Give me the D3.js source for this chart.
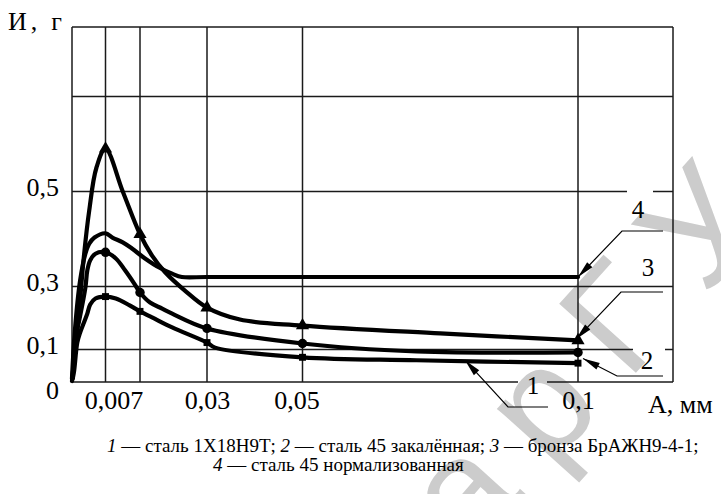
<!DOCTYPE html>
<html><head><meta charset="utf-8">
<script src="https://cdn.jsdelivr.net/npm/d3@7"></script>
<style>html,body{margin:0;padding:0;background:#fff;} svg{display:block;}</style>
</head><body>
<svg id="chart" width="721" height="494"></svg>
<script>
// Wear И (g) versus slip amplitude A (mm) for four materials
const xTicks = [0.007, 0.03, 0.05, 0.1];
const xGrid = [0.007, 0.01, 0.03, 0.05, 0.1];
const yTicks = [0, 0.1, 0.3, 0.5];
const yGrid = [0.1, 0.3, 0.5, 0.7];
const markerX = [0.007, 0.01, 0.03, 0.05, 0.1];

// 1 — сталь 1Х18Н9Т
const steel1X18 = [[0,0.003],[0.0004,0.03],[0.0011,0.122],[0.0017,0.154],[0.0025,0.186],[0.0032,0.214],[0.0038,0.243],[0.0049,0.262],[0.007,0.268],[0.0079,0.262],[0.0091,0.24],[0.01,0.221],[0.0136,0.202],[0.0196,0.17],[0.03,0.122],[0.0317,0.106],[0.05,0.076],[0.0707,0.067],[0.1,0.058]];
// 2 — сталь 45 закалённая
const steel45Hard = [[0.0002,0.012],[0.0006,0.129],[0.0015,0.192],[0.0028,0.297],[0.0032,0.334],[0.0038,0.355],[0.0049,0.369],[0.007,0.372],[0.0079,0.359],[0.0087,0.334],[0.0095,0.306],[0.01,0.281],[0.013,0.249],[0.0166,0.23],[0.0196,0.214],[0.03,0.167],[0.05,0.119],[0.0707,0.094],[0.1,0.091]];
// 3 — бронза БрАЖН9-4-1
const bronze = [[0,0.01],[0.0008,0.11],[0.0017,0.26],[0.0025,0.365],[0.0036,0.46],[0.0051,0.55],[0.007,0.59],[0.0085,0.50],[0.01,0.41],[0.0136,0.365],[0.0175,0.33],[0.0234,0.287],[0.03,0.233],[0.0369,0.195],[0.05,0.176],[0.075,0.151],[0.1,0.129]];
// 4 — сталь 45 нормализованная
const steel45Norm = [[0,0.012],[0.0006,0.16],[0.0017,0.313],[0.0028,0.369],[0.0036,0.39],[0.0047,0.403],[0.007,0.412],[0.0076,0.403],[0.0085,0.393],[0.0093,0.38],[0.0115,0.359],[0.0157,0.34],[0.0196,0.327],[0.0225,0.32],[0.03,0.32],[0.05,0.32],[0.1,0.32]];

const captionLine1 = [["1", " — сталь 1Х18Н9Т; "], ["2", " — сталь 45 закалённая; "], ["3", " — бронза БрАЖН9-4-1;"]];
const captionLine2 = [["4", " — сталь 45 нормализованная"]];

const svg = d3.select("#chart");
const serif = "Liberation Serif";

// hand-drawn, non-uniform axes -> piecewise linear scales
const x = d3.scaleLinear().domain([0, 0.007, 0.01, 0.03, 0.05, 0.1, 0.12])
  .range([72, 105.5, 140, 207, 302.5, 578, 673]);
const y = d3.scaleLinear().domain([0, 0.1, 0.3, 0.5, 0.7, 0.9])
  .range([382, 349.5, 286.5, 191.5, 96.5, 27]);

// watermark
svg.append("text")
  .attr("transform", "translate(382,655) rotate(-48)")
  .attr("font-family", "Liberation Sans")
  .attr("font-size", 150)
  .attr("letter-spacing", 34)
  .attr("fill", "#cccccc")
  .text("БарГУ");

const grid = svg.append("g").attr("stroke", "#1a1a1a").attr("stroke-width", 1.5).attr("fill", "none");
const x0 = x(0), x1 = x(0.12), yTop = y(0.9), yBot = y(0);

// horizontal lines, some interrupted near labels
const hSegs = yGrid.map(v => {
  if (v === 0.5) return [[x0, 627], [653, x1]];
  if (v === 0.1) return [[x0, 633], [665, x1]];
  return [[x0, x1]];
});
yGrid.forEach((v, i) => hSegs[i].forEach(s =>
  grid.append("line").attr("x1", s[0]).attr("x2", s[1]).attr("y1", y(v)).attr("y2", y(v))));
// frame
grid.append("line").attr("x1", x0).attr("x2", x1).attr("y1", yTop).attr("y2", yTop);
grid.append("line").attr("x1", x0).attr("x2", 518).attr("y1", yBot).attr("y2", yBot);
grid.append("line").attr("x1", 547).attr("x2", x1).attr("y1", yBot).attr("y2", yBot);
grid.append("line").attr("x1", x0).attr("x2", x0).attr("y1", yTop).attr("y2", yBot);
grid.append("line").attr("x1", x1).attr("x2", x1).attr("y1", yTop).attr("y2", yBot);
grid.selectAll(".vg").data(xGrid).join("line").attr("class", "vg")
  .attr("x1", d => x(d)).attr("x2", d => x(d)).attr("y1", yTop).attr("y2", yBot);

// curves
const line = d3.line().x(d => x(d[0])).y(d => y(d[1])).curve(d3.curveCatmullRom.alpha(0.5));
const series = [steel1X18, steel45Hard, bronze, steel45Norm];
const symbols = [d3.symbolSquare, d3.symbolCircle, d3.symbolTriangle, null];
const sizes = [48, 70, 75, 0];
series.forEach((s, i) => {
  svg.append("path").attr("d", line(s)).attr("fill", "none").attr("stroke", "#000")
    .attr("stroke-width", 4.2).attr("stroke-linejoin", "round").attr("stroke-linecap", "round");
  if (!symbols[i]) return;
  const pts = s.filter(d => markerX.includes(d[0]));
  svg.selectAll(null).data(pts).join("path")
    .attr("transform", d => `translate(${x(d[0])},${y(d[1])})`)
    .attr("d", d3.symbol(symbols[i], sizes[i])).attr("fill", "#000");
});

// leaders with arrowheads and curve numbers
function leader(tip, elbow, end) {
  svg.append("polyline").attr("points", [end, elbow, tip].map(p => p.join(",")).join(" "))
    .attr("fill", "none").attr("stroke", "#000").attr("stroke-width", 1.2);
  const ang = Math.atan2(elbow[1] - tip[1], elbow[0] - tip[0]);
  const L = 17, W = 3.6;
  const bx = tip[0] + L * Math.cos(ang), by = tip[1] + L * Math.sin(ang);
  const px = -Math.sin(ang) * W, py = Math.cos(ang) * W;
  svg.append("path").attr("d", `M${tip[0]},${tip[1]}L${bx + px},${by + py}L${bx - px},${by - py}Z`).attr("fill", "#000");
}
leader([x(0.1), y(0.32)], [622, 231], [663, 231]);
leader([x(0.1) - 2, y(0.129) - 1], [621, 292], [663, 292]);
leader([x(0.1) + 5, y(0.091) + 6], [617, 376], [663, 376]);
leader([x(0.0795), y(0.064) - 1], [508, 407], [548, 407]);

const numLabels = [["4", 638, 218], ["3", 648, 276], ["2", 647, 369], ["1", 533, 394]];
svg.selectAll(null).data(numLabels).join("text")
  .attr("x", d => d[1]).attr("y", d => d[2]).attr("text-anchor", "middle")
  .attr("font-family", serif).attr("font-size", 25).text(d => d[0]);

// axes (labels only)
const fmt = d => d === 0 ? "0" : String(d).replace(".", ",");
const xAxis = svg.append("g").attr("transform", `translate(0,${yBot})`)
  .call(d3.axisBottom(x).tickValues(xTicks).tickSize(0).tickPadding(0).tickFormat(fmt));
xAxis.select(".domain").remove();
xAxis.selectAll("text").attr("font-family", serif).attr("font-size", 26).attr("fill", "#000")
  .attr("dy", null).attr("y", 27).attr("dx", d => d === 0.007 ? 8 : (d === 0.05 ? -6 : 0));

const yAxis = svg.append("g").attr("transform", `translate(${x0},0)`)
  .call(d3.axisLeft(y).tickValues(yTicks).tickSize(0).tickPadding(13).tickFormat(fmt));
yAxis.select(".domain").remove();
yAxis.selectAll("text").attr("font-family", serif).attr("font-size", 26).attr("fill", "#000")
  .attr("dy", d => d === 0 ? "16" : "4");

svg.append("text").attr("x", 8).attr("y", 30).attr("font-family", serif).attr("font-size", 26)
  .attr("textLength", 54).text("И, г");
svg.append("text").attr("x", 648).attr("y", 413).attr("font-family", serif).attr("font-size", 26)
  .text("А, мм");

// caption
function caption(parts, cx, cy) {
  const t = svg.append("text").attr("x", cx).attr("y", cy)
    .attr("font-family", serif).attr("font-size", 19);
  parts.forEach(p => {
    t.append("tspan").attr("font-style", "italic").text(p[0]);
    t.append("tspan").text(p[1]);
  });
}
caption(captionLine1, 107, 452);
caption(captionLine2, 213, 471);
</script>
</body></html>
